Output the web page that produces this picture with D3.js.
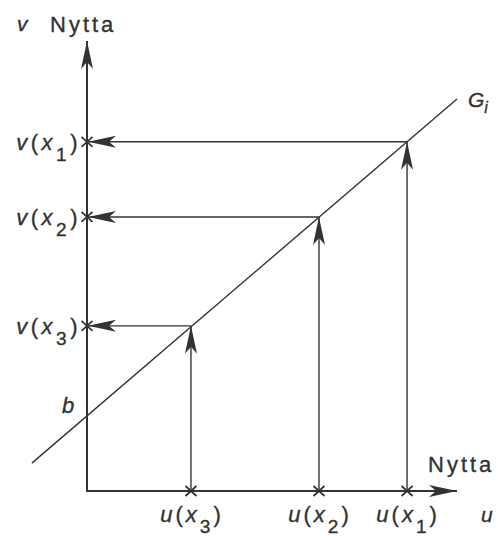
<!DOCTYPE html>
<html>
<head>
<meta charset="utf-8">
<script src="https://cdn.jsdelivr.net/npm/d3@7"></script>
<style>
  body { margin: 0; background: #fff; }
  text { font-family: "Liberation Sans", Arial, sans-serif; fill: #333; stroke: #333; stroke-width: 0.35px; }
</style>
</head>
<body>
<div id="container"></div>
<script>
// values (arbitrary units on both axes)
const subs = ["1", "2", "3"];
const uValues = [8.65, 6.27, 2.81];
const vValues = [7.76, 6.09, 3.67];
const bValue = 1.67;
const lineU = [-1.49, 10.0];
const lineV = [0.62, 8.71];
const axisMax = [10, 10];

const w = 498;
const h = 536;
const ink = "#333";

const svg = d3.select("#container")
  .append("svg")
  .attr("width", w)
  .attr("height", h);

const x = d3.scaleLinear().domain([0, 10]).range([87, 457]);
const y = d3.scaleLinear().domain([0, 10]).range([491, 41]);

// long narrow arrowhead with a notch at the back
const defs = svg.append("defs");
defs.append("marker")
  .attr("id", "head")
  .attr("markerUnits", "userSpaceOnUse")
  .attr("viewBox", "-30 -7 32 14")
  .attr("markerWidth", 32)
  .attr("markerHeight", 14)
  .attr("refX", 0)
  .attr("refY", 0)
  .attr("orient", "auto")
  .append("path")
  .attr("d", "M0,0 L-28,-6 L-21,0 L-28,6 Z")
  .attr("fill", ink);

// G_i line
svg.append("line")
  .attr("x1", x(lineU[0])).attr("y1", y(lineV[0]))
  .attr("x2", x(lineU[1])).attr("y2", y(lineV[1]))
  .attr("stroke", ink).attr("stroke-width", 1.4);

// vertical arrows up to the line, horizontal arrows over to the v axis
svg.selectAll(".up")
  .data(uValues)
  .enter()
  .append("line")
  .attr("class", "up")
  .attr("x1", (d) => x(d)).attr("y1", y(0))
  .attr("x2", (d) => x(d)).attr("y2", (d, i) => y(vValues[i]))
  .attr("stroke", ink).attr("stroke-width", 1.4)
  .attr("marker-end", "url(#head)");

svg.selectAll(".left")
  .data(vValues)
  .enter()
  .append("line")
  .attr("class", "left")
  .attr("x1", (d, i) => x(uValues[i])).attr("y1", (d) => y(d))
  .attr("x2", x(0) + 1).attr("y2", (d) => y(d))
  .attr("stroke", ink).attr("stroke-width", 1.4)
  .attr("marker-end", "url(#head)");

// axes
svg.append("line")
  .attr("x1", x(0)).attr("y1", y(0))
  .attr("x2", x(0)).attr("y2", y(axisMax[1]))
  .attr("stroke", ink).attr("stroke-width", 2)
  .attr("marker-end", "url(#head)");
svg.append("line")
  .attr("x1", x(0) - 1).attr("y1", y(0))
  .attr("x2", x(axisMax[0])).attr("y2", y(0))
  .attr("stroke", ink).attr("stroke-width", 2)
  .attr("marker-end", "url(#head)");

// cross marks
function cross(cx, cy) {
  svg.append("path")
    .attr("d", `M${cx - 5.5},${cy - 5}L${cx + 5.5},${cy + 5}M${cx - 5.5},${cy + 5}L${cx + 5.5},${cy - 5}`)
    .attr("stroke", ink).attr("stroke-width", 1.7);
}
uValues.forEach((d) => cross(x(d), y(0)));
vValues.forEach((d) => cross(x(0), y(d)));

// labels like v(x1) with italic letters and a dropped subscript
function label(g, letter, sub) {
  g.append("tspan").attr("font-style", "italic").text(letter);
  g.append("tspan").text("(");
  g.append("tspan").attr("font-style", "italic").text("x");
  g.append("tspan").attr("dy", 11).attr("font-size", 19).text(sub);
  g.append("tspan").attr("dy", -11).text(")");
}

vValues.forEach((d, i) => {
  const t = svg.append("text")
    .attr("x", x(0) - 6)
    .attr("y", y(d) + 8)
    .attr("text-anchor", "end")
    .attr("font-size", 22)
    .attr("letter-spacing", 3.5);
  label(t, "v", subs[i]);
});

uValues.forEach((d, i) => {
  const t = svg.append("text")
    .attr("x", x(d) + 1)
    .attr("y", 522)
    .attr("text-anchor", "middle")
    .attr("font-size", 22)
    .attr("letter-spacing", 3);
  label(t, "u", subs[i]);
});

svg.append("text")
  .attr("x", x(0) - 25).attr("y", y(bValue) - 3)
  .attr("font-size", 22).attr("font-style", "italic")
  .text("b");

const g = svg.append("text")
  .attr("x", x(lineU[1]) + 11).attr("y", y(lineV[1]) + 8)
  .attr("font-size", 21);
g.append("tspan").attr("font-style", "italic").text("G");
g.append("tspan").attr("dy", 6).attr("font-size", 16).attr("font-style", "italic").text("i");

// axis titles
svg.append("text")
  .attr("x", 17).attr("y", 31)
  .attr("font-size", 21).attr("font-style", "italic")
  .text("v");
svg.append("text")
  .attr("x", 50).attr("y", 32)
  .attr("font-size", 22).attr("letter-spacing", 3)
  .text("Nytta");
svg.append("text")
  .attr("x", 428).attr("y", 472)
  .attr("font-size", 22).attr("letter-spacing", 3)
  .text("Nytta");
svg.append("text")
  .attr("x", 481).attr("y", 522)
  .attr("font-size", 21).attr("font-style", "italic")
  .text("u");
</script>
</body>
</html>
